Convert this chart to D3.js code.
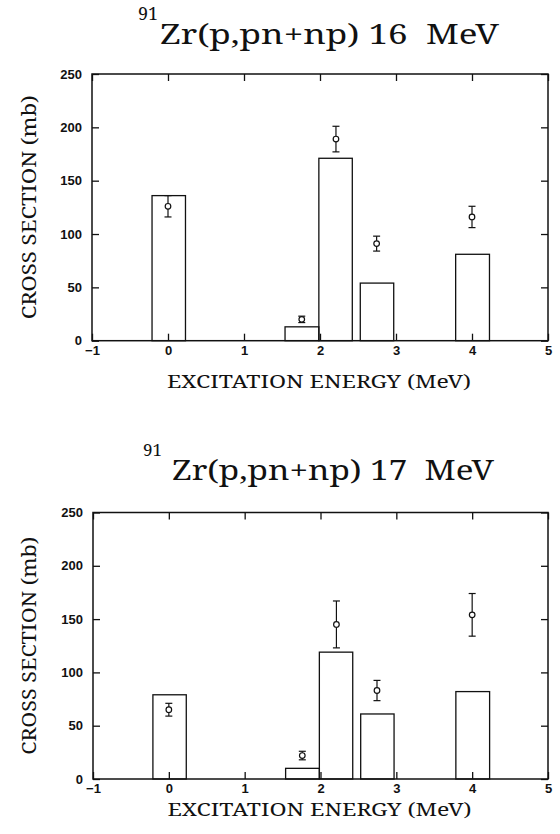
<!DOCTYPE html>
<html>
<head>
<meta charset="utf-8">
<script src="https://cdn.jsdelivr.net/npm/d3@7"></script>
<style>
  html, body { margin: 0; padding: 0; background: #fff; }
  svg { display: block; }
  text { white-space: pre; }
</style>
</head>
<body>
<svg id="chart" width="560" height="834"></svg>
<script>
// ---- data ----
const xTicks = [-1, 0, 1, 2, 3, 4, 5];
const yTicks = [0, 50, 100, 150, 200, 250];
// bins of the calculated cross sections (MeV)
const binLo = [-0.21, 1.54, 1.985, 2.53, 3.785];
const binHi = [0.23, 1.985, 2.425, 2.97, 4.23];
// experimental excitation energies (MeV)
const expE = [0, 1.76, 2.21, 2.745, 4.0];

const calc16 = [136, 13, 171, 54, 81];
const exp16 = [126, 20, 189, 91, 116];
const err16 = [10, 3, 12, 7, 10];

const calc17 = [79, 10, 119, 61, 82];
const exp17 = [65, 22, 145, 83, 154];
const err17 = [6, 4, 22, 9.5, 20];

const titleSup = ["91", "91"];
const titleMain = ["Zr(p,pn+np) 16  MeV", "Zr(p,pn+np) 17  MeV"];
const yLabel = "CROSS SECTION (mb)";
const xLabel = "EXCITATION ENERGY (MeV)";

// ---- drawing ----
const SERIF = "Noto Serif, DejaVu Serif, serif";
const SANS = "Liberation Sans, Arial, DejaVu Sans, sans-serif";
const svg = d3.select("#chart");

const panels = [
  { calc: calc16, exp: exp16, err: err16, sup: titleSup[0], main: titleMain[0],
    left: 92, right: 548, top: 74, bottom: 340.7,
    supX: 138, supY: 20, supSize: 18, mainX: 160, mainY: 44, mainSize: 28, mainLen: 339,
    yLabX: 36, yLabLen: 224, xLabY: 388 },
  { calc: calc17, exp: exp17, err: err17, sup: titleSup[1], main: titleMain[1],
    left: 93, right: 548, top: 512.5, bottom: 779,
    supX: 143, supY: 456, supSize: 17, mainX: 172, mainY: 480, mainSize: 27, mainLen: 322,
    yLabX: 36, yLabLen: 218, xLabY: 816 }
];

panels.forEach(p => {
  const g = svg.append("g");
  const x = d3.scaleLinear().domain([-1, 5]).range([p.left, p.right]);
  const y = d3.scaleLinear().domain([0, 250]).range([p.bottom, p.top]);

  // title
  g.append("text")
    .attr("x", p.supX).attr("y", p.supY)
    .attr("font-family", SERIF)
    .attr("font-size", p.supSize)
    .attr("fill", "#111")
    .text(p.sup);
  g.append("text")
    .attr("x", p.mainX).attr("y", p.mainY)
    .attr("font-family", SERIF)
    .attr("font-size", p.mainSize)
    .attr("fill", "#111")
    .attr("textLength", p.mainLen)
    .attr("lengthAdjust", "spacingAndGlyphs")
    .text(p.main);

  // axes
  const tickStyle = g => {
    g.attr("font-family", SANS).attr("font-size", 13).attr("font-weight", "bold");
    g.select(".domain").remove();
    g.selectAll(".tick line").attr("stroke", "#111").attr("stroke-width", 1.3);
    g.selectAll(".tick text").attr("fill", "#111");
  };
  g.append("g").attr("transform", `translate(0,${p.bottom})`)
    .call(d3.axisBottom(x).tickValues(xTicks).tickSize(-7).tickPadding(5).tickFormat(d3.format("d")))
    .call(tickStyle);
  g.append("g").attr("transform", `translate(0,${p.top})`)
    .call(d3.axisTop(x).tickValues(xTicks).tickSize(-7).tickFormat(""))
    .call(tickStyle);
  g.append("g").attr("transform", `translate(${p.left},0)`)
    .call(d3.axisLeft(y).tickValues(yTicks).tickSize(-7).tickPadding(10).tickFormat(d3.format("d")))
    .call(tickStyle);
  g.append("g").attr("transform", `translate(${p.right},0)`)
    .call(d3.axisRight(y).tickValues(yTicks).tickSize(-7).tickFormat(""))
    .call(tickStyle);

  // frame
  g.append("rect")
    .attr("x", x(-1)).attr("y", y(250))
    .attr("width", x(5) - x(-1)).attr("height", y(0) - y(250))
    .attr("fill", "none").attr("stroke", "#111").attr("stroke-width", 1.5);

  // calculated bars
  g.selectAll("rect.bar").data(p.calc).join("rect")
    .attr("class", "bar")
    .attr("x", (d, i) => x(binLo[i]))
    .attr("width", (d, i) => x(binHi[i]) - x(binLo[i]))
    .attr("y", d => y(d))
    .attr("height", d => y(0) - y(d))
    .attr("fill", "none").attr("stroke", "#111").attr("stroke-width", 1.3);

  // experimental points with error bars
  const pts = g.selectAll("g.pt").data(p.exp).join("g").attr("class", "pt");
  pts.append("line")
    .attr("x1", (d, i) => x(expE[i])).attr("x2", (d, i) => x(expE[i]))
    .attr("y1", (d, i) => y(d + p.err[i])).attr("y2", (d, i) => y(d - p.err[i]))
    .attr("stroke", "#111").attr("stroke-width", 1.2);
  [1, -1].forEach(s => {
    pts.append("line")
      .attr("x1", (d, i) => x(expE[i]) - 3.5).attr("x2", (d, i) => x(expE[i]) + 3.5)
      .attr("y1", (d, i) => y(d + s * p.err[i])).attr("y2", (d, i) => y(d + s * p.err[i]))
      .attr("stroke", "#111").attr("stroke-width", 1.2);
  });
  pts.append("circle")
    .attr("cx", (d, i) => x(expE[i])).attr("cy", d => y(d))
    .attr("r", 2.8)
    .attr("fill", "#fff").attr("stroke", "#111").attr("stroke-width", 1.2);

  // axis labels
  g.append("text")
    .attr("transform", `translate(${p.yLabX},${(p.top + p.bottom) / 2}) rotate(-90)`)
    .attr("text-anchor", "middle")
    .attr("font-family", SERIF)
    .attr("font-size", 20)
    .attr("fill", "#111")
    .attr("textLength", p.yLabLen)
    .attr("lengthAdjust", "spacingAndGlyphs")
    .text(yLabel);
  g.append("text")
    .attr("x", (x(0) + x(4)) / 2 - 1).attr("y", p.xLabY)
    .attr("text-anchor", "middle")
    .attr("font-family", SERIF)
    .attr("font-size", 18)
    .attr("fill", "#111")
    .attr("textLength", 304)
    .attr("lengthAdjust", "spacingAndGlyphs")
    .text(xLabel);
});
</script>
</body>
</html>
